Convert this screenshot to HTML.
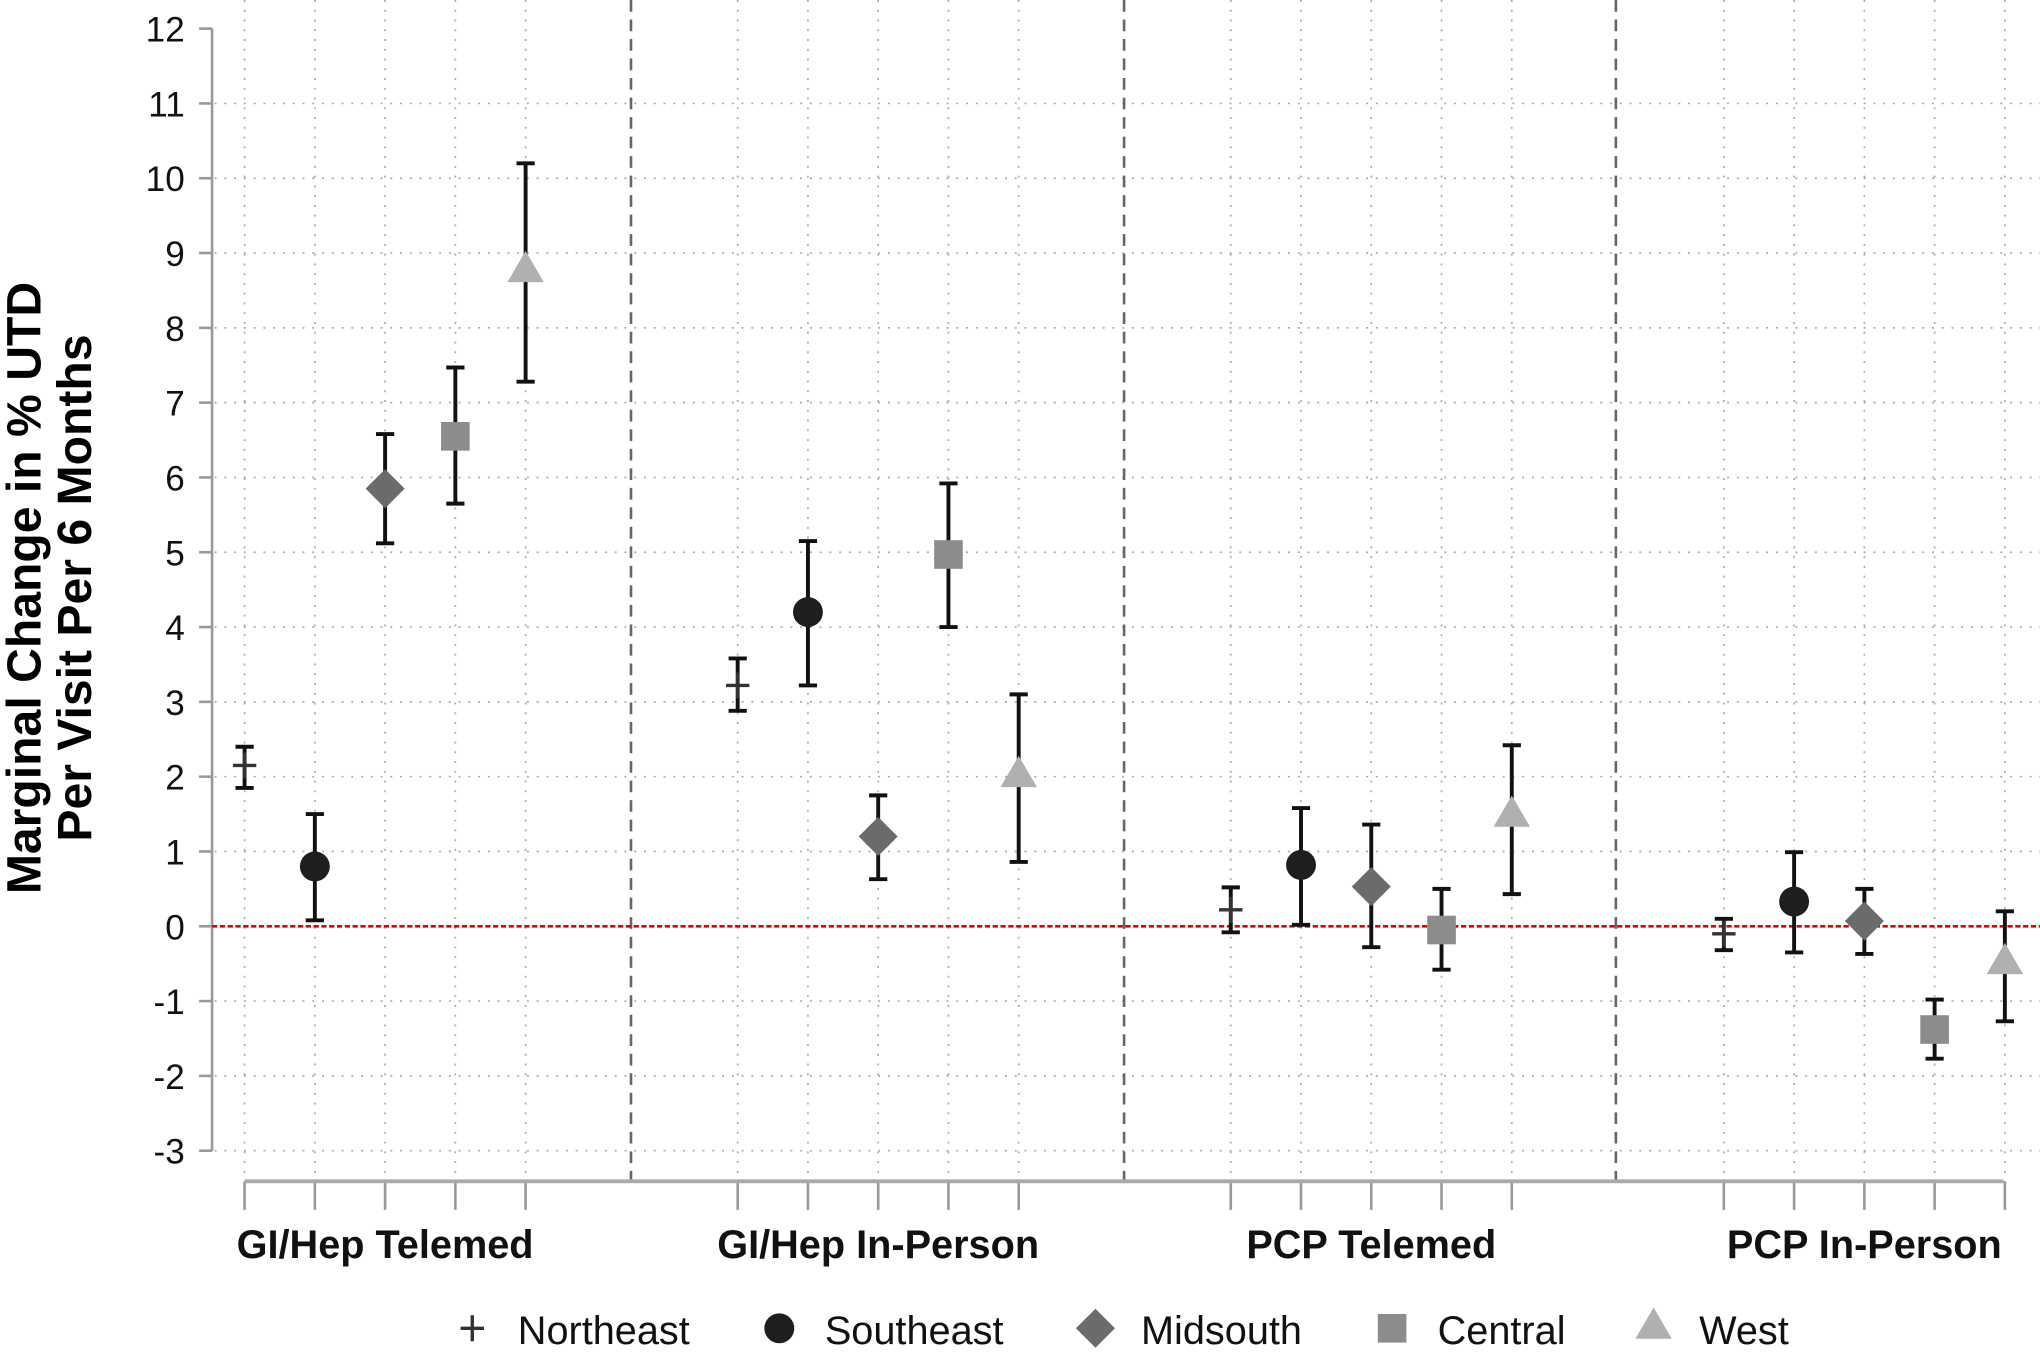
<!DOCTYPE html>
<html><head><meta charset="utf-8"><style>
html,body{margin:0;padding:0;background:#fff;}
svg{display:block;font-family:"Liberation Sans",Arial,sans-serif;}
</style></head><body>
<svg id="chart" width="2040" height="1353" viewBox="0 0 1568 1040" preserveAspectRatio="none" xmlns="http://www.w3.org/2000/svg">
<g id="grid"></g>
<g id="axes"></g>
<g id="marks"></g>
<text transform="translate(31,452) rotate(-90)" text-anchor="middle" font-weight="bold" font-size="37">Marginal Change in % UTD</text>
<text transform="translate(70,452) rotate(-90)" text-anchor="middle" font-weight="bold" font-size="37">Per Visit Per 6 Months</text>
<g id="legend"></g>
</svg>
<script>
const groups = ["GI/Hep Telemed","GI/Hep In-Person","PCP Telemed","PCP In-Person"];
const regions = ["Northeast","Southeast","Midsouth","Central","West"];
const estNE = [2.15, 3.22, 0.22, -0.10];
const loNE  = [1.85, 2.88, -0.08, -0.32];
const hiNE  = [2.40, 3.58, 0.52, 0.10];
const estSE = [0.80, 4.20, 0.82, 0.33];
const loSE  = [0.08, 3.22, 0.02, -0.35];
const hiSE  = [1.50, 5.15, 1.58, 0.99];
const estMS = [5.85, 1.20, 0.53, 0.07];
const loMS  = [5.12, 0.63, -0.28, -0.37];
const hiMS  = [6.58, 1.75, 1.36, 0.50];
const estC  = [6.55, 4.97, -0.05, -1.38];
const loC   = [5.65, 4.00, -0.58, -1.77];
const hiC   = [7.47, 5.92, 0.50, -0.98];
const estW  = [8.75, 2.00, 1.47, -0.50];
const loW   = [7.28, 0.86, 0.43, -1.27];
const hiW   = [10.20, 3.10, 2.42, 0.20];
const yTicks = [12,11,10,9,8,7,6,5,4,3,2,1,0,-1,-2,-3];

const NS="http://www.w3.org/2000/svg";
const y = v => 712 - v*57.5;
const x = (g,k) => 188 + 379*g + 54*k;
function mk(tag, attrs, parent){const e=document.createElementNS(NS,tag);for(const k in attrs)e.setAttribute(k,attrs[k]);parent.appendChild(e);return e;}
const grid=document.getElementById('grid'), axes=document.getElementById('axes'), marks=document.getElementById('marks'), legend=document.getElementById('legend');

yTicks.forEach(t=>{
  if(t!==12 && t!==0){
    const l=mk('line',{x1:165,x2:1568,y1:y(t),y2:y(t),stroke:'#aaa','stroke-width':1.3,'stroke-dasharray':'1.5 6'},grid);
    
    
  }
  const tk=mk('line',{x1:153,x2:163,y1:y(t),y2:y(t),stroke:'#999','stroke-width':2},axes);
  
  
  const tx=mk('text',{x:142,y:y(t)+10,'text-anchor':'end','font-size':27,fill:'#111'},axes);
  tx.textContent=String(t);
  
  
});
for(let g=0;g<4;g++)for(let k=0;k<5;k++){
  const l=mk('line',{x1:x(g,k),x2:x(g,k),y1:0,y2:905,stroke:'#aaa','stroke-width':1.3,'stroke-dasharray':'1.5 6'},grid);
  
  
  const tk=mk('line',{x1:x(g,k),x2:x(g,k),y1:908,y2:930,stroke:'#999','stroke-width':2},axes);
  
  
}
[485,864,1242].forEach(dx=>{
  const l=mk('line',{x1:dx,x2:dx,y1:0,y2:908,stroke:'#666','stroke-width':2,'stroke-dasharray':'9 6'},grid);
  
  
});
const ya=mk('line',{x1:163,x2:163,y1:y(12),y2:y(-3),stroke:'#999','stroke-width':2},axes);


const xa=mk('line',{x1:188,x2:1540,y1:908,y2:908,stroke:'#aaa','stroke-width':3},axes);


const zl=mk('line',{x1:163,x2:1568,y1:y(0),y2:y(0),stroke:'#e00000','stroke-width':2,'stroke-dasharray':'4 2'},axes);


groups.forEach((gname,g)=>{
  const t=mk('text',{x:x(g,2),y:967,'text-anchor':'middle','font-size':30.5,'font-weight':'bold',fill:'#111'},axes);
  t.textContent=gname;
  
  
});

function marker(type,cx,cy,parent){
  let e;
  if(type===0){e=mk('path',{d:`M${cx-9},${cy}H${cx+9}M${cx},${cy-10}V${cy+10}`,stroke:'#333','stroke-width':2.6,fill:'none'},parent);}
  else if(type===1){e=mk('circle',{cx:cx,cy:cy,r:11.5,fill:'#1e1e1e'},parent);}
  else if(type===2){e=mk('path',{d:`M${cx},${cy-15}L${cx+15},${cy}L${cx},${cy+15}L${cx-15},${cy}Z`,fill:'#6b6b6b'},parent);}
  else if(type===3){e=mk('rect',{x:cx-11,y:cy-11,width:22,height:22,fill:'#8c8c8c'},parent);}
  else {e=mk('path',{d:`M${cx},${cy-16}L${cx+14},${cy+8}L${cx-14},${cy+8}Z`,fill:'#b0b0b0'},parent);}
  return e;
}
const EST=[estNE,estSE,estMS,estC,estW], LO=[loNE,loSE,loMS,loC,loW], HI=[hiNE,hiSE,hiMS,hiC,hiW];
const nm=['northeast','southeast','midsouth','central','west'];
for(let k=0;k<5;k++)for(let g=0;g<4;g++){
  const cx=x(g,k);
  const eb=mk('path',{d:`M${cx},${y(HI[k][g])}V${y(LO[k][g])}M${cx-7},${y(HI[k][g])}H${cx+7}M${cx-7},${y(LO[k][g])}H${cx+7}`,stroke:'#111','stroke-width':3,fill:'none'},marks);
  
  
  const m=marker(k,cx,y(EST[k][g]),marks);
  
  
}
const lx=[363,599,842,1070,1271];
regions.forEach((r,k)=>{
  const m=marker(k,lx[k],1021,legend);
  
  
  const t=mk('text',{x:lx[k]+35,y:1033,'font-size':30.5,fill:'#111'},legend);
  t.textContent=r;
  
  
});
</script>
</body></html>
